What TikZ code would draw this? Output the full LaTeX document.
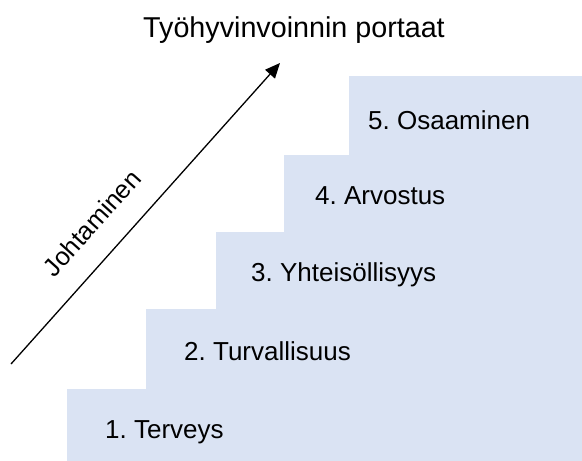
\documentclass[tikz,border=0pt]{standalone}
\usepackage{fontspec}
\setmainfont{Liberation Sans}
\usetikzlibrary{arrows.meta}
\definecolor{stepblue}{HTML}{DAE3F3}
\frenchspacing
\begin{document}
\begin{tikzpicture}[x=1pt,y=-1pt,
  steplabel/.style={anchor=base west,inner sep=0pt,font=\fontsize{26}{30}\selectfont},
  titlelabel/.style={anchor=base,inner sep=0pt,font=\fontsize{28.7}{34}\selectfont},
  arrowlabel/.style={inner sep=0pt,rotate=48,font=\fontsize{25.5}{30}\selectfont}]
\useasboundingbox (0,0) rectangle (582,461);
\fill[stepblue] (67,461) -- (67,389) -- (146,389) -- (146,309) -- (216,309) -- (216,232)
  -- (284,232) -- (284,155) -- (349,155) -- (349,76) -- (582,76) -- (582,461) -- cycle;
\node[titlelabel] (title) at (294,37) {Työhyvinvoinnin portaat};
\node[steplabel] (s1) at (105,438) {1. Terveys};
\node[steplabel] (s2) at (184,360) {2. Turvallisuus};
\node[steplabel] (s3) at (251,281) {3. Yhteisöllisyys};
\node[steplabel] (s4) at (315,204) {4. Arvostus};
\node[steplabel] (s5) at (368,129) {5. Osaaminen};
\coordinate (astart) at (11,364);
\coordinate (aend) at (280,63);
\draw[line width=1.3pt,-{Triangle[length=15pt,width=13pt]}] (astart) -- (aend);
\node[arrowlabel] (lead) at (92,223) {Johtaminen};
\end{tikzpicture}
\end{document}
